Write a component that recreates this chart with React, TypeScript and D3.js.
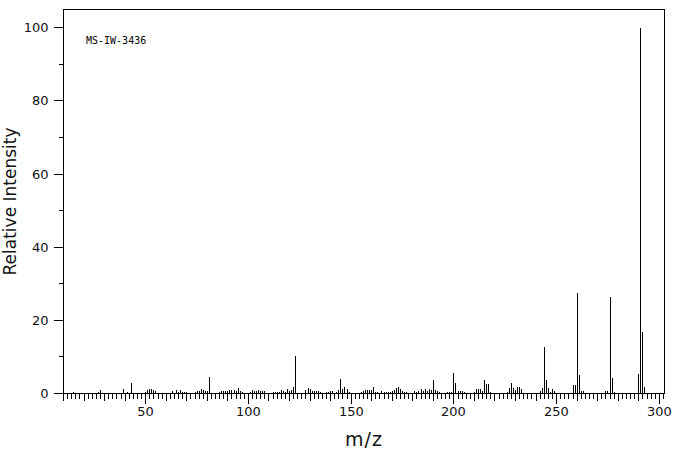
import React from "react";
import * as d3 from "d3";

const masses = [
  15, 26, 27, 28, 29, 30, 39, 40, 41, 42, 43, 44, 45,
  50, 51, 52, 53, 54, 55, 56, 57, 58, 59, 60, 62, 63, 64, 65, 66, 67, 68, 69, 70, 71,
  74, 75, 76, 77, 78, 79, 80, 81, 82, 83, 84, 85, 86, 87, 88, 89, 90, 91, 92, 93, 94,
  95, 96, 97, 98, 100, 101, 102, 103, 104, 105, 106, 107, 108, 109, 111, 112, 113,
  114, 115, 116, 117, 118, 119, 120, 121, 122, 123, 124, 125, 126, 128, 129, 130,
  131, 132, 133, 134, 135, 137, 138, 139, 140, 141, 142, 143, 144, 145, 146, 147,
  148, 149, 150, 151, 152, 153, 154, 155, 156, 157, 158, 159, 160, 161, 162, 163,
  164, 165, 166, 167, 168, 169, 170, 171, 172, 173, 174, 175, 176, 177, 178, 179,
  180, 181, 182, 183, 184, 185, 186, 187, 188, 189, 190, 191, 192, 193, 194, 195,
  196, 197, 198, 199, 200, 201, 202, 203, 204, 205, 206, 209, 210, 211, 212, 213,
  214, 215, 216, 217, 218, 219, 225, 226, 227, 228, 229, 230, 231, 232, 233, 234,
  241, 242, 243, 244, 245, 246, 247, 248, 249, 250, 256, 257, 258, 259, 260, 261,
  262, 263, 264, 273, 274, 275, 276, 277, 278, 288, 290, 291, 292, 293, 294,
];

const intensities = [
  0.6, 0.3, 0.5, 1.2, 0.4, 0.4, 1.4, 0.4, 0.5, 0.4, 3.1, 0.4, 0.4,
  0.6, 1.2, 1.3, 1.5, 1.2, 0.9, 0.4, 0.4, 0.3, 0.4, 0.3, 0.4, 0.9, 0.4, 1.1, 0.6, 1.2, 0.6, 0.6, 0.5, 0.4,
  0.6, 0.8, 0.8, 1.4, 1.0, 0.9, 0.9, 4.7, 0.4, 0.3, 0.4, 0.4, 0.6, 0.8, 0.8, 0.8, 0.8, 1.2, 1.2, 1.0, 0.8,
  1.6, 0.8, 0.5, 0.3, 0.4, 0.5, 1.2, 0.8, 0.9, 1.2, 0.8, 0.8, 0.8, 0.4, 0.3, 0.6, 0.6,
  0.6, 0.6, 1.0, 0.8, 0.6, 1.3, 0.8, 1.1, 2.0, 10.3, 0.4, 0.4, 0.3, 1.0, 1.6, 1.3,
  0.8, 0.8, 0.8, 0.8, 0.5, 0.3, 0.5, 0.6, 0.8, 0.8, 0.3, 0.5, 1.0, 4.2, 1.3, 2.0,
  1.3, 0.6, 0.3, 0.3, 0.3, 0.4, 0.4, 0.6, 0.8, 1.0, 1.1, 1.2, 1.1, 1.8, 0.6, 0.6,
  0.3, 0.8, 0.6, 0.6, 0.6, 0.6, 0.8, 1.2, 1.6, 2.0, 1.3, 0.8, 0.6, 0.5, 0.4, 0.4,
  0.4, 0.8, 0.6, 0.8, 1.3, 0.8, 1.3, 0.8, 1.3, 1.0, 3.9, 1.0, 0.8, 0.5, 0.4, 0.4,
  0.4, 0.5, 0.6, 0.6, 5.7, 3.0, 0.8, 0.8, 0.8, 0.6, 0.4, 0.3, 0.6, 1.3, 1.3, 1.3,
  0.8, 3.9, 2.6, 2.8, 0.6, 0.3, 0.3, 0.6, 1.7, 3.1, 1.7, 1.2, 2.0, 2.0, 1.5, 0.4,
  0.4, 0.8, 1.7, 12.9, 3.9, 1.7, 0.6, 1.5, 0.9, 0.4, 0.3, 0.3, 2.5, 2.5, 27.5, 5.3,
  0.9, 0.9, 0.4, 0.4, 0.9, 0.9, 26.4, 4.5, 0.6, 0.4, 5.6, 100, 16.9, 2.0, 0.4,
];

const yTickValues = [0, 20, 40, 60, 80, 100];
const yMinorTicks = [10, 30, 50, 70, 90];
const xTickLabels = [50, 100, 150, 200, 250, 300];
const sampleName = "MS-IW-3436";
const xTitle = "m/z";
const yTitle = "Relative Intensity";

const W = 676;
const H = 455;
const FONT = "'DejaVu Sans', sans-serif";

export default function App() {
  const x = d3.scaleLinear().domain([10, 302.5]).range([63, 664]);
  const y = d3.scaleLinear().domain([0, 105]).range([393, 9]);
  const px = (v: number) => Math.round(x(v)) + 0.5;
  const py = (v: number) => Math.round(y(v)) + 0.5;

  const x0 = px(10);
  const x1 = px(302.5);
  const yb = py(0);
  const yt = py(105);

  const xTicks = d3.range(10, 303, 2);

  return (
    <svg
      width={W}
      height={H}
      style={{ position: "absolute", left: 0, top: 0, background: "#fff" }}
      fontFamily={FONT}
    >
      <rect x={0} y={0} width={W} height={H} fill="#fff" />
      <g shapeRendering="crispEdges" stroke="#000" strokeWidth={1}>
        {masses.map((m, i) => (
          <line key={"p" + i} x1={px(m)} x2={px(m)} y1={yb} y2={py(intensities[i])} />
        ))}
        <rect x={x0} y={yt} width={x1 - x0} height={yb - yt} fill="none" />
        {xTicks.map((t) => {
          const len = t % 50 === 0 ? 10 : t % 10 === 0 ? 7 : 5;
          return <line key={"xt" + t} x1={px(t)} x2={px(t)} y1={yb} y2={yb + len} />;
        })}
        {yTickValues.map((t) => (
          <line key={"yt" + t} x1={x0 - 10} x2={x0} y1={py(t)} y2={py(t)} />
        ))}
        {yMinorTicks.map((t) => (
          <line key={"ym" + t} x1={x0 - 5} x2={x0} y1={py(t)} y2={py(t)} />
        ))}
      </g>
      <g fill="#111" fontSize={13}>
        {yTickValues.map((t) => (
          <text key={"yl" + t} x={x0 - 15} y={py(t)} dy="0.36em" textAnchor="end">
            {t}
          </text>
        ))}
        {xTickLabels.map((t) => (
          <text key={"xl" + t} x={px(t)} y={416} textAnchor="middle">
            {t}
          </text>
        ))}
      </g>
      <text x={364} y={446} textAnchor="middle" fontSize={19} fill="#111" letterSpacing={1}>
        {xTitle}
      </text>
      <text
        transform={`translate(16, ${(yt + yb) / 2}) rotate(-90)`}
        textAnchor="middle"
        fontSize={17}
        fill="#111"
      >
        {yTitle}
      </text>
      <text x={86} y={44} fontSize={10} fill="#000" fontFamily="'DejaVu Sans Mono', monospace">
        {sampleName}
      </text>
    </svg>
  );
}
